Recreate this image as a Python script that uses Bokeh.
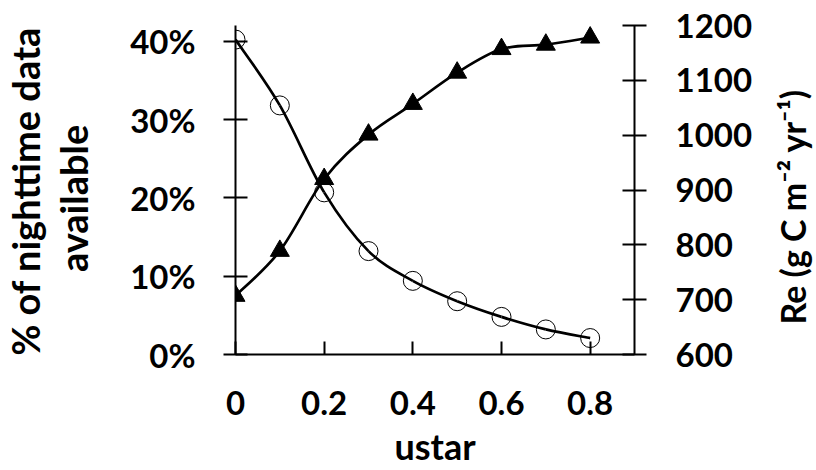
import math
from bokeh.plotting import figure
from bokeh.layouts import row
from bokeh.models import Range1d, LinearAxis, FixedTicker, NumeralTickFormatter, ColumnDataSource
from bokeh.core.properties import value
from bokeh.embed import file_html
from bokeh.resources import INLINE

# ---- data ----
ustar = [0.0, 0.1, 0.2, 0.3, 0.4, 0.5, 0.6, 0.7, 0.8]
pct_available = [0.402, 0.318, 0.207, 0.132, 0.094, 0.068, 0.048, 0.032, 0.021]
re_values = [707, 789, 920, 1001, 1057, 1114, 1157, 1165, 1178]
x_ticks = [0.0, 0.2, 0.4, 0.6, 0.8]
x_tick_labels = ["0", "0.2", "0.4", "0.6", "0.8"]
left_ticks = [0.0, 0.1, 0.2, 0.3, 0.4]
right_ticks = [600, 700, 800, 900, 1000, 1100, 1200]
left_title_lines = ["% of nighttime data", "available"]
right_title = "Re (g C m\u207b\u00b2 yr\u207b\u00b9)"
x_title = "ustar"

FONT = "Lato"
FS = "33px"
H = 470
LEFT_W, RIGHT_W = 110, 57
MAIN_W = 816 - LEFT_W - RIGHT_W


def smooth_segments(xs, ys):
    """Excel-like smoothed line as cubic Bezier segments built from the data."""
    n = len(xs)
    x0, y0, x1, y1, cx0, cy0, cx1, cy1 = ([] for _ in range(8))
    for i in range(n - 1):
        ip = max(i - 1, 0)
        inn = min(i + 2, n - 1)
        x0.append(xs[i]); y0.append(ys[i])
        x1.append(xs[i + 1]); y1.append(ys[i + 1])
        cx0.append(xs[i] + (xs[i + 1] - xs[ip]) / 6.0)
        cy0.append(ys[i] + (ys[i + 1] - ys[ip]) / 6.0)
        cx1.append(xs[i + 1] - (xs[inn] - xs[i]) / 6.0)
        cy1.append(ys[i + 1] - (ys[inn] - ys[i]) / 6.0)
    return ColumnDataSource(dict(x0=x0, y0=y0, x1=x1, y1=y1, cx0=cx0, cy0=cy0, cx1=cx1, cy1=cy1))


def title_strip(width):
    f = figure(width=width, height=H, output_backend="svg", toolbar_location=None,
               x_range=Range1d(0, width), y_range=Range1d(0, H),
               x_axis_location=None, y_axis_location=None,
               min_border=0, min_border_left=0, min_border_right=0,
               min_border_top=0, min_border_bottom=0)
    f.outline_line_color = None
    f.xgrid.visible = False
    f.ygrid.visible = False
    f.background_fill_color = "white"
    f.border_fill_color = "white"
    return f


p = figure(width=MAIN_W, height=H, output_backend="svg", toolbar_location=None,
           x_range=Range1d(0, 0.9), y_range=Range1d(0, 0.42),
           min_border_left=235 - LEFT_W, min_border_right=125, min_border_top=25,
           min_border_bottom=115)
p.extra_y_ranges = {"re": Range1d(600, 1200)}
p.outline_line_color = None
p.xgrid.visible = False
p.ygrid.visible = False
p.background_fill_color = "white"
p.border_fill_color = "white"

# x axis
xa = p.xaxis[0]
xa.ticker = FixedTicker(ticks=x_ticks)
xa.major_label_overrides = {t: lab for t, lab in zip(x_ticks, x_tick_labels)}
xa.axis_label = x_title
xa.major_tick_in = 13
xa.major_tick_out = 0
xa.minor_tick_line_color = None
xa.major_label_standoff = 36
xa.axis_label_standoff = 6
xa.axis_label_text_line_height = 1.0
xa.major_label_text_line_height = 1.0

# left axis
ya = p.yaxis[0]
ya.ticker = FixedTicker(ticks=left_ticks)
ya.formatter = NumeralTickFormatter(format="0%")
ya.major_tick_in = 12
ya.major_tick_out = 12
ya.minor_tick_line_color = None
ya.major_label_standoff = 28

# right axis
ra = LinearAxis(y_range_name="re", ticker=FixedTicker(ticks=right_ticks))
ra.major_tick_in = 12
ra.major_tick_out = 12
ra.minor_tick_line_color = None
ra.major_label_standoff = 29
p.add_layout(ra, "right")

for ax in (xa, ya, ra):
    ax.axis_line_width = 2
    ax.major_tick_line_width = 2
    ax.axis_line_color = "black"
    ax.major_tick_line_color = "black"
    ax.major_label_text_font = FONT
    ax.major_label_text_font_style = "bold"
    ax.major_label_text_font_size = FS
    ax.major_label_text_color = "black"
    ax.axis_label_text_font = FONT
    ax.axis_label_text_font_style = "bold"
    ax.axis_label_text_color = "black"
xa.axis_label_text_font_size = "36px"

# Re series (right axis): smoothed line + filled triangles
src_re = smooth_segments(ustar, re_values)
p.bezier(x0="x0", y0="y0", x1="x1", y1="y1", cx0="cx0", cy0="cy0", cx1="cx1", cy1="cy1",
         source=src_re, line_color="black", line_width=2.7, y_range_name="re")
p.scatter(ustar, re_values, marker="triangle", size=19, fill_color="black", line_color="black",
          y_range_name="re")

# % available series (left axis): smoothed line + open circles
src_pct = smooth_segments(ustar, pct_available)
p.bezier(x0="x0", y0="y0", x1="x1", y1="y1", cx0="cx0", cy0="cy0", cx1="cx1", cy1="cy1",
         source=src_pct, line_color="black", line_width=2.7)
p.scatter(ustar, pct_available, marker="circle", size=19, fill_alpha=0, line_color="black",
          line_width=1)

# vertical axis titles, reading bottom-to-top as in the reference
lt = title_strip(LEFT_W)
lt.text(x=[24, 72], y=[H - 237, H - 247], text=left_title_lines, angle=math.pi / 2,
        text_align="center", text_baseline="alphabetic", text_font=value(FONT),
        text_font_style="bold", text_font_size="38px", text_color="black")

rt = title_strip(RIGHT_W)
rt.text(x=[33], y=[H - 259], text=[right_title], angle=math.pi / 2,
        text_align="center", text_baseline="alphabetic", text_font=value(FONT),
        text_font_style="bold", text_font_size="34px", text_color="black")

layout = row(lt, p, rt, spacing=0)
open("out.html", "w").write(file_html(layout, INLINE))
